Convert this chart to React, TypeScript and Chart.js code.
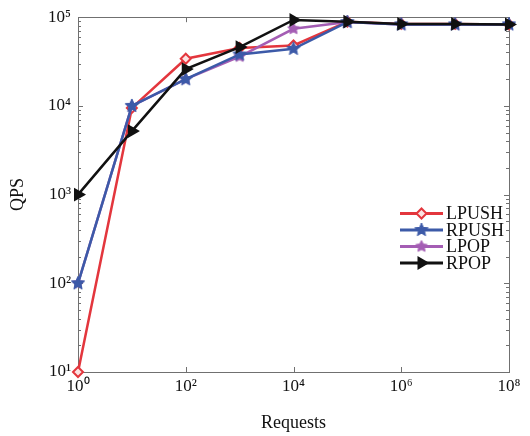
import { useEffect, useRef } from 'react';
import { Chart, registerables } from 'chart.js';
import { drawPoint } from 'chart.js/helpers';

Chart.register(...registerables);

const requests = [1, 10, 100, 1e3, 1e4, 1e5, 1e6, 1e7, 1e8];
const lpush = [10, 9500, 34000, 45000, 48000, 89000, 84000, 84000, 83000];
const rpush = [100, 10000, 20000, 38000, 44000, 88000, 83000, 83000, 83000];
const lpop = [100, 10000, 20000, 36000, 74000, 88000, 83000, 83000, 83000];
const rpop = [1000, 5200, 26000, 46000, 93000, 89000, 84000, 84000, 83000];
const seriesNames = ['LPUSH', 'RPUSH', 'LPOP', 'RPOP'];
const xTicks = [1, 1e2, 1e4, 1e6, 1e8];
const yTicks = [1e1, 1e2, 1e3, 1e4, 1e5];

const SERIF = '"Liberation Serif", "Times New Roman", serif';
const SUP = ['⁰', '¹', '²', '³', '⁴', '⁵', '⁶', '⁷', '⁸', '⁹'];
function powLabel(v: number): string {
  const e = Math.round(Math.log10(v));
  return '10' + String(e).split('').map((d) => SUP[+d]).join('');
}

function makeStar(fill: string, r: number, inner: number): HTMLCanvasElement {
  const size = Math.ceil(r * 2 + 4);
  const c = document.createElement('canvas');
  c.width = size;
  c.height = size;
  const ctx = c.getContext('2d')!;
  const cx = size / 2;
  const cy = size / 2;
  ctx.beginPath();
  for (let i = 0; i < 10; i++) {
    const ang = -Math.PI / 2 + (i * Math.PI) / 5;
    const rr = i % 2 === 0 ? r : r * inner;
    ctx.lineTo(cx + rr * Math.cos(ang), cy + rr * Math.sin(ang));
  }
  ctx.closePath();
  ctx.fillStyle = fill;
  ctx.fill();
  ctx.strokeStyle = fill;
  ctx.lineWidth = 1;
  ctx.stroke();
  return c;
}

export default function App() {
  const ref = useRef<HTMLCanvasElement | null>(null);

  useEffect(() => {
    document.body.style.margin = '0';
    const canvas = ref.current;
    if (!canvas) return;

    const RED = '#e3363d';
    const BLUE = '#3c5aa8';
    const PURPLE = '#a45db4';
    const BLACK = '#111111';

    const blueStar = makeStar(BLUE, 7, 0.45);
    const purpleStar = makeStar(PURPLE, 6, 0.5);

    const styles = [
      { color: RED, pointStyle: 'rectRot' as any, radius: 5, bg: '#fbe3e3', rotation: 0, order: 3 },
      { color: BLUE, pointStyle: blueStar as any, radius: 6, bg: BLUE, rotation: 0, order: 1 },
      { color: PURPLE, pointStyle: purpleStar as any, radius: 6, bg: PURPLE, rotation: 0, order: 2 },
      { color: BLACK, pointStyle: 'triangle' as any, radius: 6, bg: BLACK, rotation: 90, order: 0 },
    ];
    const values = [lpush, rpush, lpop, rpop];

    const framePlugin = {
      id: 'frame',
      beforeDatasetsDraw(chart: any) {
        const { ctx, chartArea } = chart;
        const { left, right, top, bottom } = chartArea;
        const xs = chart.scales.x;
        const ys = chart.scales.y;
        ctx.save();
        ctx.strokeStyle = '#707070';
        ctx.lineWidth = 1;
        ctx.strokeRect(Math.round(left) + 0.5, Math.round(top) + 0.5, Math.round(right - left), Math.round(bottom - top));
        ctx.beginPath();
        for (let e = 1; e < 5; e++) {
          for (let m = 1; m <= 9; m++) {
            const v = m * Math.pow(10, e);
            if (v > 1e5) break;
            const py = Math.round(ys.getPixelForValue(v)) + 0.5;
            const len = m === 1 ? 5 : 3;
            ctx.moveTo(left, py);
            ctx.lineTo(left + len, py);
            ctx.moveTo(right, py);
            ctx.lineTo(right - len, py);
          }
        }
        for (const v of xTicks) {
          const px = Math.round(xs.getPixelForValue(v)) + 0.5;
          ctx.moveTo(px, bottom);
          ctx.lineTo(px, bottom - 5);
          ctx.moveTo(px, top);
          ctx.lineTo(px, top + 5);
        }
        ctx.stroke();
        ctx.restore();
      },
      afterDatasetsDraw(chart: any) {
        const { ctx } = chart;
        ctx.save();
        const rows = [213.5, 230, 246.5, 263];
        for (let i = 0; i < seriesNames.length; i++) {
          const s = styles[i];
          const y = rows[i];
          ctx.strokeStyle = s.color;
          ctx.lineWidth = 3;
          ctx.beginPath();
          ctx.moveTo(400, y);
          ctx.lineTo(443, y);
          ctx.stroke();
          ctx.fillStyle = s.bg;
          ctx.strokeStyle = s.color;
          ctx.lineWidth = 2;
          drawPoint(ctx, { pointStyle: s.pointStyle, radius: s.radius, rotation: s.rotation, borderWidth: 2 } as any, 421.5, y);
          ctx.fillStyle = '#111';
          ctx.font = '18px ' + SERIF;
          ctx.textAlign = 'left';
          ctx.textBaseline = 'middle';
          ctx.fillText(seriesNames[i], 446, y + 1);
        }
        ctx.restore();
      },
    };

    const chart = new Chart(canvas, {
      type: 'line',
      data: {
        datasets: values.map((vals, i) => ({
          label: seriesNames[i],
          data: requests.map((x, j) => ({ x, y: vals[j] })),
          borderColor: styles[i].color,
          backgroundColor: styles[i].bg,
          borderWidth: 2.5,
          pointStyle: styles[i].pointStyle,
          pointRadius: styles[i].radius,
          pointRotation: styles[i].rotation,
          pointBorderWidth: 2,
          pointBorderColor: styles[i].color,
          pointBackgroundColor: styles[i].bg,
          tension: 0,
          clip: false as any,
          order: styles[i].order,
        })),
      },
      options: {
        animation: false,
        responsive: false,
        layout: { padding: { left: 0, right: 21, top: 13, bottom: 0 } },
        plugins: { legend: { display: false }, tooltip: { enabled: false } },
        scales: {
          x: {
            type: 'logarithmic',
            min: 1,
            max: 1e8,
            grid: { display: false, drawTicks: false },
            border: { display: false },
            afterBuildTicks: (scale: any) => {
              scale.ticks = xTicks.map((v) => ({ value: v }));
            },
            afterFit: (scale: any) => {
              scale.height = 64;
            },
            ticks: {
              autoSkip: false,
              maxRotation: 0,
              padding: 4,
              color: '#111',
              font: { family: SERIF, size: 17 },
              callback: (v: any) => powLabel(Number(v)),
            },
            title: {
              display: true,
              text: 'Requests',
              color: '#111',
              font: { family: SERIF, size: 18 },
              padding: { top: 0, bottom: 2 },
            },
          },
          y: {
            type: 'logarithmic',
            min: 10,
            max: 1e5,
            grid: { display: false, drawTicks: false },
            border: { display: false },
            afterBuildTicks: (scale: any) => {
              scale.ticks = yTicks.map((v) => ({ value: v }));
            },
            afterFit: (scale: any) => {
              scale.width = 78;
            },
            ticks: {
              autoSkip: false,
              padding: 7,
              color: '#111',
              font: { family: SERIF, size: 17 },
              callback: (v: any) => powLabel(Number(v)),
            },
            title: {
              display: true,
              text: 'QPS',
              color: '#111',
              font: { family: SERIF, size: 18 },
              padding: { top: 7, bottom: 0 },
            },
          },
        },
      },
      plugins: [framePlugin],
    });

    return () => {
      chart.destroy();
    };
  }, []);

  return (
    <div style={{ position: 'absolute', left: 0, top: 0, width: 530, height: 436 }}>
      <canvas ref={ref} width={530} height={436} style={{ width: 530, height: 436, display: 'block' }} />
    </div>
  );
}
